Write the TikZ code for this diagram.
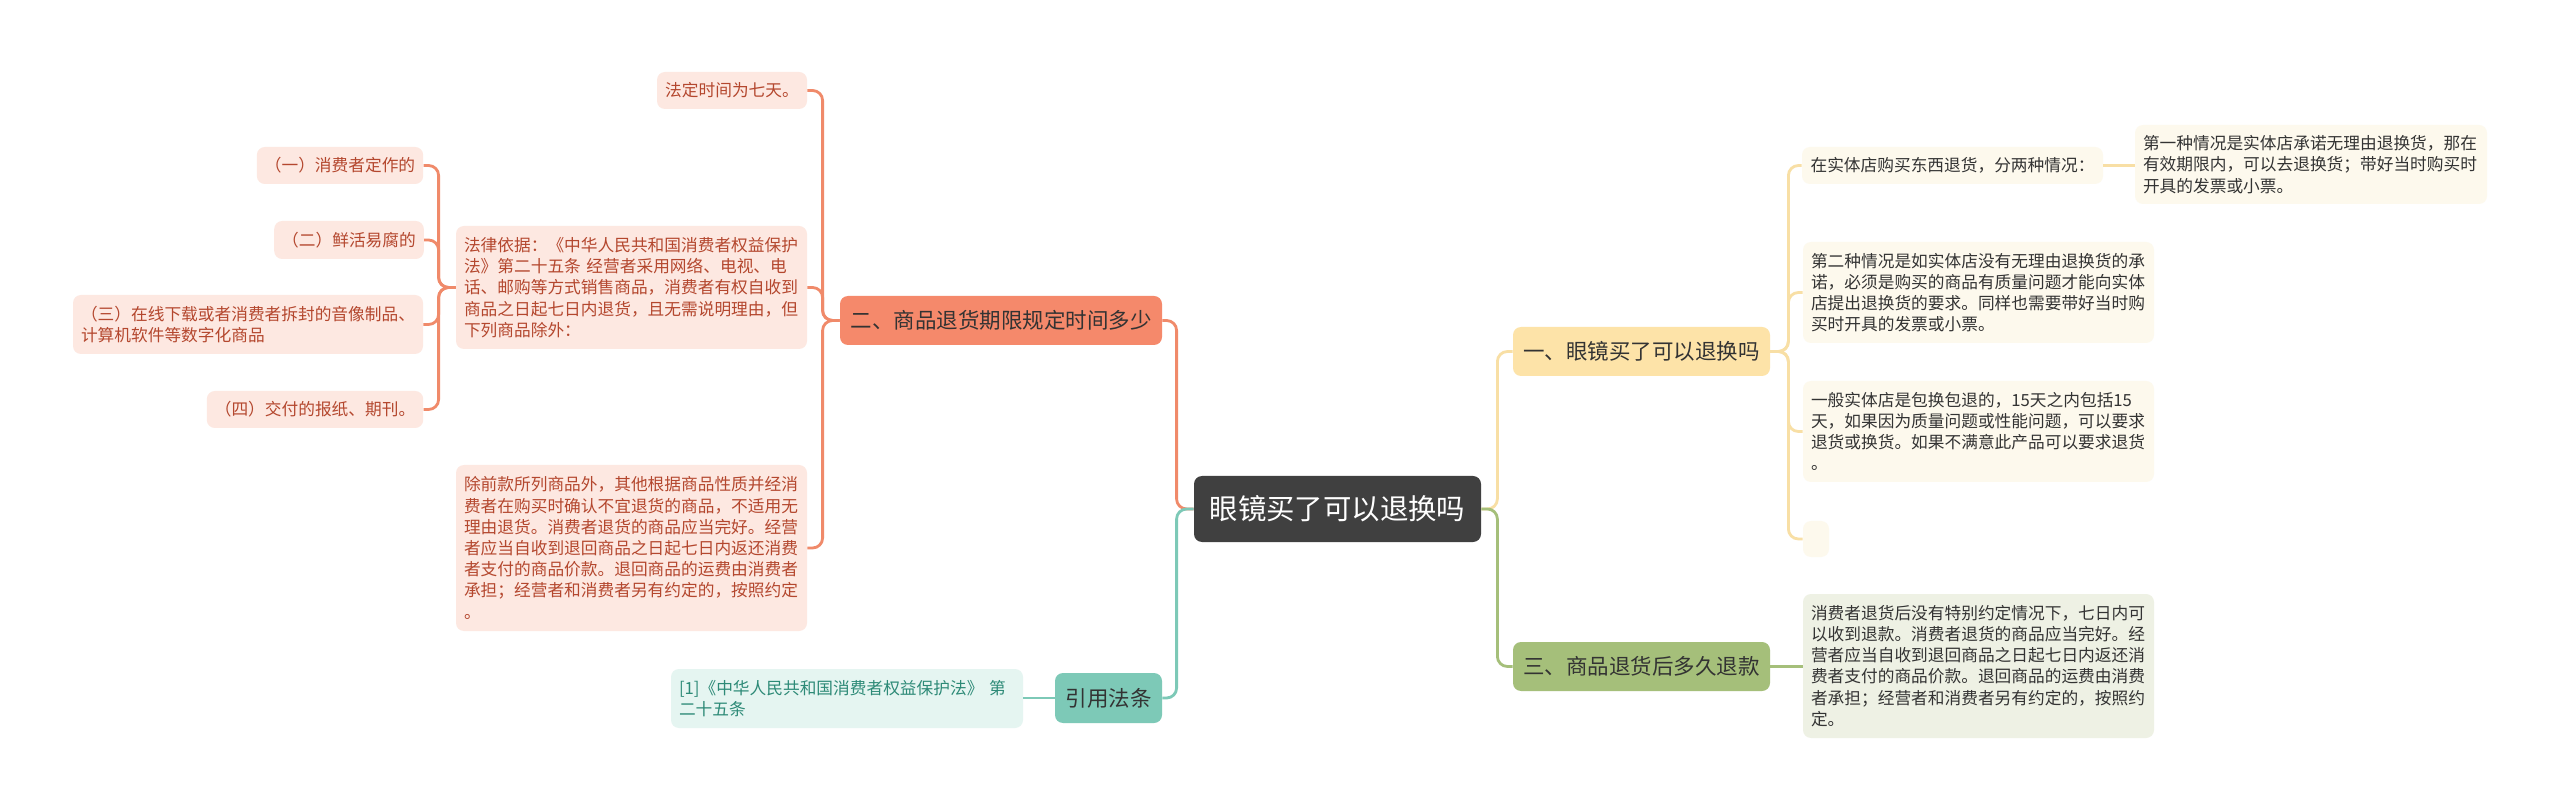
\documentclass[tikz,border=0pt]{standalone}
\usepackage{fontspec}
\setmainfont{Noto Sans CJK SC}
\definecolor{centerc}{HTML}{404040}
\definecolor{txt}{HTML}{333333}
\definecolor{orfill}{HTML}{F5896B}
\definecolor{orline}{HTML}{F08A6A}
\definecolor{orleafc}{HTML}{FDE8E1}
\definecolor{ortext}{HTML}{B4472E}
\definecolor{ylfill}{HTML}{FDE3A8}
\definecolor{ylline}{HTML}{F8DFA5}
\definecolor{ylleafc}{HTML}{FDF9ED}
\definecolor{grfill}{HTML}{A5BF7A}
\definecolor{grline}{HTML}{A5BF7A}
\definecolor{grleafc}{HTML}{EEF1E4}
\definecolor{tlfill}{HTML}{7DC9B7}
\definecolor{tlline}{HTML}{7DC9B7}
\definecolor{tlleafc}{HTML}{E5F5F1}
\definecolor{tltext}{HTML}{2D8A77}
\tikzset{
  base/.style={rounded corners=4pt, inner ysep=0pt, inner xsep=4pt, text=txt},
  leaf/.style={base, font=\fontsize{8.35}{10.6}\selectfont, align=left},
  orleaf/.style={leaf, fill=orleafc, text=ortext},
  ylleaf/.style={leaf, fill=ylleafc},
  grleaf/.style={leaf, fill=grleafc},
  tlleaf/.style={leaf, fill=tlleafc, text=tltext},
  mainn/.style={base, font=\fontsize{10.75}{13}\selectfont, inner xsep=0pt, align=center, minimum width=#1},
  link/.style={line width=1.4pt, rounded corners=5pt},
}
\begin{document}
\begin{tikzpicture}[x=0.5pt, y=-0.5pt]
\useasboundingbox (0,0) rectangle (2560,812);
\fill[white] (0,0) rectangle (2560,812);

% central
\node[base, fill=centerc, text=white, font=\fontsize{14.2}{16}\selectfont, minimum width=143.5pt, minimum height=33pt, inner xsep=0pt] (ce) at (1337.5,509) {眼镜买了可以退换吗};

% main branches
\node[mainn=161pt, fill=orfill, minimum height=24.5pt] (er) at (1001,320.5) {二、商品退货期限规定时间多少};
\node[mainn=53.5pt, fill=tlfill, minimum height=25pt] (yy) at (1108.5,698) {引用法条};
\node[mainn=128.5pt, fill=ylfill, minimum height=24.5pt] (yi) at (1641.5,351.5) {一、眼镜买了可以退换吗};
\node[mainn=128.5pt, fill=grfill, minimum height=24.5pt] (sa) at (1641.5,666.5) {三、商品退货后多久退款};

% branch two leaves
\node[orleaf, minimum width=75pt, minimum height=18.5pt] (fd) at (732,90.5) {法定时间为七天。};
\node[orleaf, text width=167.5pt, minimum height=61.5pt] (fl) at (631.5,287.5) {法律依据：《中华人民共和国消费者权益保护\\法》第二十五条 经营者采用网络、电视、电\\话、邮购等方式销售商品，消费者有权自收到\\商品之日起七日内退货，且无需说明理由，但\\下列商品除外：};
\node[orleaf, text width=167.5pt, minimum height=83pt] (cq) at (631.5,548) {除前款所列商品外，其他根据商品性质并经消\\费者在购买时确认不宜退货的商品，不适用无\\理由退货。消费者退货的商品应当完好。经营\\者应当自收到退回商品之日起七日内返还消费\\者支付的商品价款。退回商品的运费由消费者\\承担；经营者和消费者另有约定的，按照约定\\。};
\node[orleaf, minimum width=83pt, minimum height=18.5pt] (c1) at (340,165.5) {（一）消费者定作的};
\node[orleaf, minimum width=74pt, minimum height=19pt] (c2) at (349,240) {（二）鲜活易腐的};
\node[orleaf, text width=167pt, minimum height=29.5pt] (c3) at (248,324.5) {（三）在线下载或者消费者拆封的音像制品、\\计算机软件等数字化商品};
\node[orleaf, minimum width=108pt, minimum height=18.5pt] (c4) at (315,409.5) {（四）交付的报纸、期刊。};

% citation leaf
\node[tlleaf, text width=168pt, minimum height=29.5pt] (ref) at (847,698.5) {[1]《中华人民共和国消费者权益保护法》 第\\二十五条};

% branch one leaves
\node[ylleaf, minimum width=150.5pt, minimum height=18.5pt] (s1) at (1952.5,165.5) {在实体店购买东西退货，分两种情况：};
\node[ylleaf, text width=168pt, minimum height=39.5pt] (s1a) at (2311,164.5) {第一种情况是实体店承诺无理由退换货，那在\\有效期限内，可以去退换货；带好当时购买时\\开具的发票或小票。};
\node[ylleaf, text width=167.5pt, minimum height=50.5pt] (s2) at (1978.5,292.5) {第二种情况是如实体店没有无理由退换货的承\\诺，必须是购买的商品有质量问题才能向实体\\店提出退换货的要求。同样也需要带好当时购\\买时开具的发票或小票。};
\node[ylleaf, text width=167.5pt, minimum height=50.5pt] (s3) at (1978.5,431.5) {一般实体店是包换包退的，15天之内包括15\\天，如果因为质量问题或性能问题，可以要求\\退货或换货。如果不满意此产品可以要求退货\\。};
\node[ylleaf, inner xsep=0pt, minimum width=13pt, minimum height=18pt] (s4) at (1816,539) {};

% branch three leaf
\node[grleaf, text width=167.5pt, minimum height=72pt] (t1) at (1978.5,666) {消费者退货后没有特别约定情况下，七日内可\\以收到退款。消费者退货的商品应当完好。经\\营者应当自收到退回商品之日起七日内返还消\\费者支付的商品价款。退回商品的运费由消费\\者承担；经营者和消费者另有约定的，按照约\\定。};

% connectors: centre to branches
\draw[link, orline] (ce.west) -- ++(-17,0) |- (er.east);
\draw[link, tlline] (ce.west) -- ++(-17,0) |- (yy.east);
\draw[link, ylline] (ce.east) -- ++(16,0) |- (yi.west);
\draw[link, grline] (ce.east) -- ++(16,0) |- (sa.west);

% branch two
\draw[link, orline] (er.west) -- ++(-17,0) |- (fd.east);
\draw[link, orline] (er.west) -- ++(-17,0) |- (fl.east);
\draw[link, orline] (er.west) -- ++(-17,0) |- (cq.east);
\draw[link, orline] (fl.west) -- ++(-17,0) |- (c1.east);
\draw[link, orline] (fl.west) -- ++(-17,0) |- (c2.east);
\draw[link, orline] (fl.west) -- ++(-17,0) |- (c3.east);
\draw[link, orline] (fl.west) -- ++(-17,0) |- (c4.east);

% citation
\draw[link, tlline] (yy.west) -- (yy.west -| ref.east);

% branch one
\draw[link, ylline] (yi.east) -- ++(18,0) |- (s1.west);
\draw[link, ylline] (yi.east) -- ++(18,0) |- (s2.west);
\draw[link, ylline] (yi.east) -- ++(18,0) |- (s3.west);
\draw[link, ylline] (yi.east) -- ++(18,0) |- (s4.west);
\draw[link, ylline] (s1.east) -- (s1.east -| s1a.west);

% branch three
\draw[link, grline] (sa.east) -- (sa.east -| t1.west);
\end{tikzpicture}
\end{document}
